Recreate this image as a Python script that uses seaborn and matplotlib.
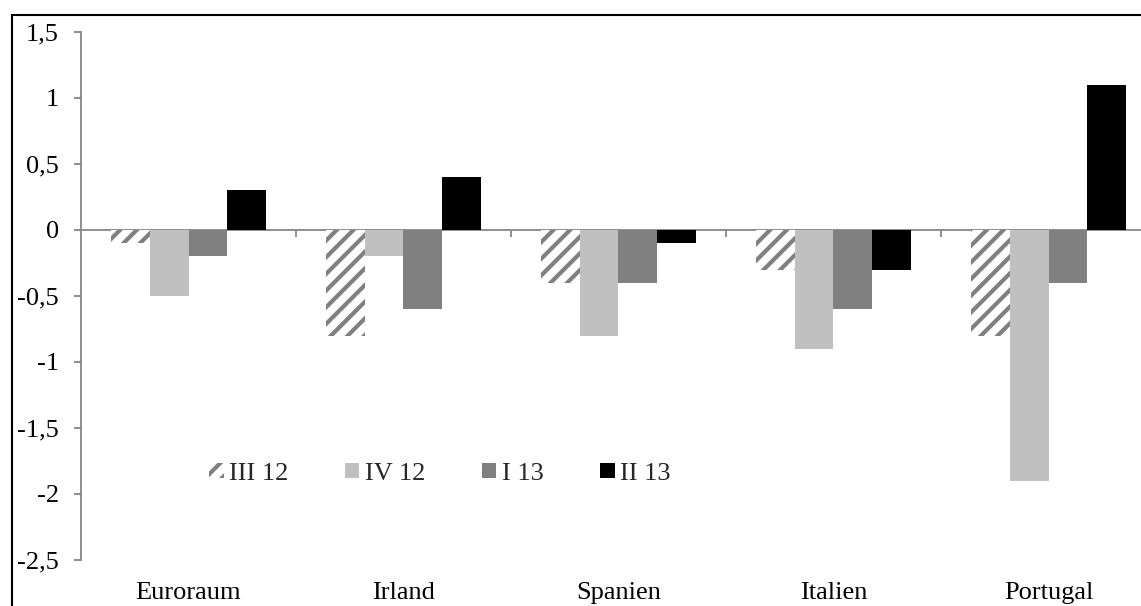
import matplotlib
matplotlib.use("Agg")
import matplotlib.pyplot as plt
from matplotlib.patches import Rectangle
import seaborn as sns
import pandas as pd

countries = ["Euroraum", "Irland", "Spanien", "Italien", "Portugal"]
quarters = ["III 12", "IV 12", "I 13", "II 13"]
q3_12 = [-0.1, -0.8, -0.4, -0.3, -0.8]
q4_12 = [-0.5, -0.2, -0.8, -0.9, -1.9]
q1_13 = [-0.2, -0.6, -0.4, -0.6, -0.4]
q2_13 = [0.3, 0.4, -0.1, -0.3, 1.1]
yticks = [1.5, 1, 0.5, 0, -0.5, -1, -1.5, -2, -2.5]
ytick_labels = ["1,5", "1", "0,5", "0", "-0,5", "-1", "-1,5", "-2", "-2,5"]
colors = ["#808080", "#C0C0C0", "#808080", "#000000"]

sns.set_style("white")
plt.rcParams["font.family"] = ["Liberation Serif", "DejaVu Serif"]
plt.rcParams["hatch.linewidth"] = 3.0
plt.rcParams["hatch.color"] = "#808080"

rows = []
for q, vals in zip(quarters, [q3_12, q4_12, q1_13, q2_13]):
    for c, v in zip(countries, vals):
        rows.append({"Land": c, "Quartal": q, "Wert": v})
df = pd.DataFrame(rows)

fig = plt.figure(figsize=(11.41, 6.06), dpi=100)
ax = fig.add_axes([81 / 1141, 46 / 606, 1075 / 1141, 528 / 606])

sns.barplot(data=df, x="Land", y="Wert", hue="Quartal", order=countries,
            hue_order=quarters, palette=colors, saturation=1, width=0.72,
            gap=0, legend=False, ax=ax, linewidth=0, err_kws={"linewidth": 0})

for p in ax.containers[0].patches:
    p.set_facecolor("white")
    p.set_edgecolor("#808080")
    p.set_linewidth(0)
    p.set_hatch("//")

ax.set_ylim(-2.5, 1.5)
ax.set_xlim(-0.5, len(countries) - 0.5)
ax.set_yticks(yticks, labels=ytick_labels)
ax.set_xlabel("")
ax.set_ylabel("")

gray = "#868686"
for s in ["top", "right", "bottom"]:
    ax.spines[s].set_visible(False)
ax.spines["left"].set_color(gray)
ax.spines["left"].set_linewidth(1.3)
ax.tick_params(axis="y", which="major", length=5, width=1.3, color=gray,
               direction="out", left=True, labelsize=19, pad=11, labelcolor="black")
ax.tick_params(axis="x", length=0, labelsize=19, pad=16, labelcolor="black")

sec = ax.secondary_xaxis(0, transform=ax.transData)
sec.set_xticks([i + 0.5 for i in range(len(countries))], labels=[""] * len(countries))
sec.spines["bottom"].set_color(gray)
sec.spines["bottom"].set_linewidth(1.3)
sec.tick_params(axis="x", length=5, width=1.3, color=gray, direction="out")

handles = list(ax.containers)
ax.legend(handles=handles, labels=quarters, ncol=4, frameon=False,
          loc="center left", bbox_to_anchor=(209 / 1141, 1 - 474 / 606),
          bbox_transform=fig.transFigure, borderaxespad=0, borderpad=0,
          fontsize=19, handlelength=0.55, handleheight=0.5,
          handletextpad=0.2, columnspacing=2.15)

fig.patches.append(Rectangle((12 / 1141, -0.1), 1.2, (606 - 15) / 606 + 0.1,
                             transform=fig.transFigure, fill=False,
                             edgecolor="black", linewidth=1.5))

fig.savefig("out.png", dpi=100)
